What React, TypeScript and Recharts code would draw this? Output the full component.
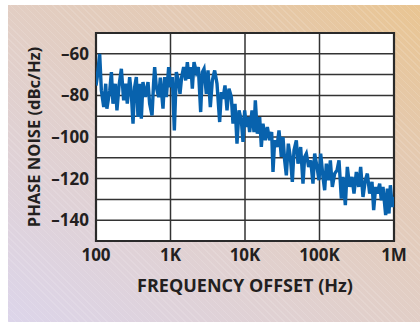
import React from 'react';
import {
  LineChart,
  Line,
  XAxis,
  YAxis,
  CartesianGrid,
  ReferenceArea
} from 'recharts';

// frequency offset (Hz)
const freqHz = [
  100, 104, 112, 118, 127, 135, 140, 153, 161, 169, 182, 191, 204, 219, 235, 250, 263, 283, 298, 314,
  330, 348, 366, 386, 406, 427, 460, 499, 525, 565, 594, 613, 645, 694, 730, 793, 835, 879, 945, 995,
  1058, 1126, 1198, 1274, 1341, 1412, 1502, 1598, 1683, 1772, 1884, 1964, 2068, 2223, 2363, 2541, 2675, 2817, 3027, 3187,
  3424, 3643, 3916, 4209, 4571, 4812, 5066, 5388, 5734, 6098, 6555, 6902, 7342, 7808, 8309, 8930, 9402, 9897, 10420, 10970,
  11550, 12420, 13210, 13760, 14640, 15740, 16570, 17440, 18750, 19940, 21440, 22800, 23760, 25020, 26880, 28600, 30740, 32360, 34070, 35870,
  38160, 40600, 43190, 45480, 48870, 51450, 55860, 60030, 63210, 66560, 71540, 76100, 81790, 86110, 92560, 98470, 103700, 111400, 117300, 123500,
  132700, 139800, 148700, 159800, 171800, 182700, 196400, 206800, 222300, 236300, 254100, 273100, 290500, 312200, 335500, 356900, 383600, 412400, 438600, 471400,
  506700, 533500, 567400, 597400, 642100, 676100, 711900, 772900, 813800, 856900, 892900, 949800, 1000000
];

// phase noise (dBc/Hz)
const phaseNoise = [
  -75.2, -71.2, -60, -77.6, -85.6, -74.4, -86.4, -77.6, -68.8, -84, -74.4, -87.2, -75.2, -67.2, -82.4, -74.4, -84, -71.2, -79.2, -93.6,
  -76, -71.2, -90.4, -74.4, -91.2, -73.6, -80.8, -73.6, -84, -89.6, -73.6, -66.4, -76, -80.8, -71.5, -86.4, -71.2, -80.8, -66.4, -76,
  -71.2, -96.8, -68.8, -72.8, -79.2, -71.2, -66.4, -72.8, -64, -72, -66.4, -76.8, -64, -68.8, -66.4, -88, -68.8, -67.2, -79.2, -68,
  -85.6, -72.8, -68, -74.4, -92.8, -78.4, -81.6, -75.2, -87.2, -76.8, -80.8, -93.6, -84, -103.2, -87.2, -92, -102.4, -87.2, -95.2, -90.4,
  -97.6, -87.2, -97.6, -82.4, -98.4, -90.4, -104.8, -93.6, -101.6, -95.2, -101.6, -97.6, -116.8, -101.6, -104.8, -96.8, -109.6, -100, -111.2, -118.4,
  -103.2, -109.6, -121.6, -106.4, -101.6, -112.8, -104.8, -122.4, -109.6, -108, -114.4, -111.2, -122.4, -108, -114.4, -120.8, -108, -119.2, -125.6, -112.8,
  -120.8, -111.2, -124, -117.6, -116, -111.2, -129.6, -119.2, -132.8, -114.4, -124, -119.2, -127.2, -116.8, -124, -114.4, -128.8, -120.8, -117.6, -127.2,
  -121.6, -135.2, -124, -127.2, -122.4, -130.4, -124, -137.6, -124.8, -136.8, -123.2, -133.6, -128.8
];

const xTicks = [100, 1000, 10000, 100000, 1000000];
const xTickLabels = ['100', '1K', '10K', '100K', '1M'];
const yGridTicks = [-150, -140, -130, -120, -110, -100, -90, -80, -70, -60, -50];
const yLabelTicks = [-140, -120, -100, -80, -60];

const data = freqHz.map((f, i) => ({ f, pn: phaseNoise[i] }));

const FONT = '"Open Sans", "DejaVu Sans", sans-serif';
const INK = '#231f20';

const tickStyle = { fontFamily: FONT, fontSize: 17, fontWeight: 700, fill: INK };

const App: React.FC = () => {
  return (
    <div style={{ position: 'fixed', left: 0, top: 0, width: 420, height: 322, background: '#fff' }}>
      <div
        style={{
          position: 'absolute',
          left: 8,
          top: 5,
          width: 412,
          height: 317,
          background:
            'repeating-linear-gradient(45deg, rgba(255,255,255,0.12) 0px, rgba(255,255,255,0.12) 1px, rgba(255,255,255,0) 1px, rgba(255,255,255,0) 5px), linear-gradient(35deg, #dcd5ea 0%, #e1d0cd 40%, #e4cab3 72%, #e9c592 100%)'
        }}
      >
        <LineChart
          width={412}
          height={317}
          data={data}
          margin={{ top: 28, right: 26, left: 0, bottom: 0 }}
        >
          <CartesianGrid
            fill="#ffffff"
            fillOpacity={1}
            stroke="#333333"
            strokeWidth={1.5}
            horizontal={true}
            vertical={true}
          />
          <XAxis
            dataKey="f"
            type="number"
            scale="log"
            domain={[100, 1000000]}
            ticks={xTicks}
            tickFormatter={(v: number) => xTickLabels[xTicks.indexOf(v)] ?? ''}
            allowDataOverflow
            height={81}
            tickLine={false}
            axisLine={false}
            tickSize={0}
            tickMargin={8}
            tick={tickStyle}
            interval={0}
            label={{
              value: 'FREQUENCY OFFSET (Hz)',
              position: 'insideBottom',
              offset: 30,
              style: { fontFamily: FONT, fontSize: 18, fontWeight: 700, fill: INK }
            }}
          />
          <YAxis
            type="number"
            domain={[-150, -50]}
            ticks={yGridTicks}
            tickFormatter={(v: number) => (yLabelTicks.includes(v) ? `\u2013${Math.abs(v)}` : '')}
            allowDataOverflow
            width={88}
            tickLine={false}
            axisLine={false}
            tickSize={0}
            tickMargin={7}
            tick={tickStyle}
            interval={0}
            label={{
              value: 'PHASE NOISE (dBc/Hz)',
              angle: -90,
              position: 'insideLeft',
              offset: 26,
              style: { fontFamily: FONT, fontSize: 16.5, fontWeight: 700, fill: INK, textAnchor: 'middle' }
            }}
          />
          <Line
            type="linear"
            dataKey="pn"
            stroke="#0862ad"
            strokeWidth={3.4}
            strokeLinejoin="miter"
            dot={false}
            isAnimationActive={false}
          />
          <ReferenceArea
            x1={100}
            x2={1000000}
            y1={-150}
            y2={-50}
            fill="none"
            stroke="#2a2a2a"
            strokeWidth={2.2}
            ifOverflow="visible"
          />
        </LineChart>
      </div>
    </div>
  );
};

export default App;
